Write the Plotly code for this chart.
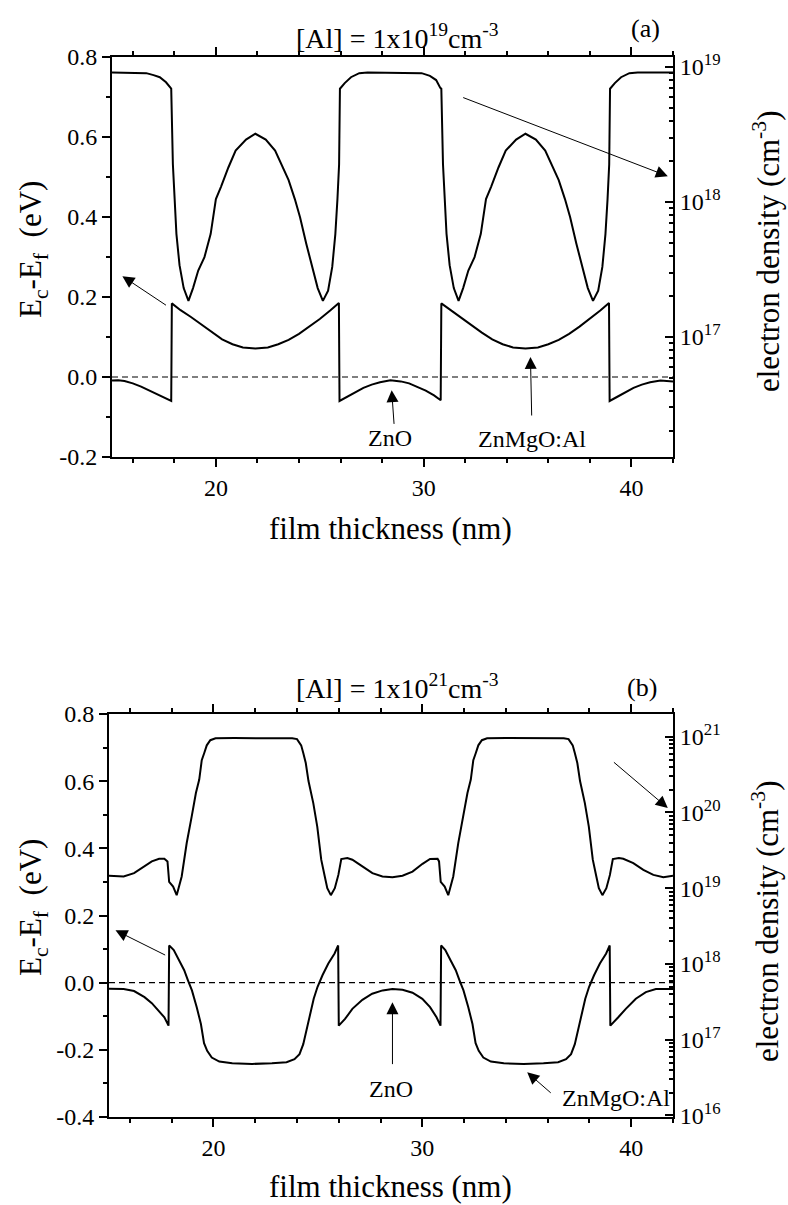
import plotly.graph_objects as go

W, H = 788, 1205
FONT = "Liberation Serif"

# ---------------- panel (a): [Al] = 1e19 cm^-3 ----------------
xa_ec = [15.0, 15.3, 15.6, 16.0, 16.4, 16.8, 17.2, 17.55, 17.85,
         17.88, 18.3, 18.8, 19.3, 19.8, 20.3, 20.8, 21.3, 21.9, 22.5, 23.0,
         23.5, 24.0, 24.5, 25.0, 25.5, 25.92,
         25.95, 26.3, 26.7, 27.1, 27.5, 27.9, 28.4, 28.9, 29.3, 29.7, 30.1,
         30.5, 30.82,
         30.85, 31.3, 31.8, 32.3, 32.8, 33.3, 33.8, 34.3, 34.9, 35.5, 36.0,
         36.5, 37.0, 37.5, 38.0, 38.5, 38.92,
         38.95, 39.3, 39.7, 40.1, 40.5, 40.9, 41.4, 42.0]
ec_a = [-0.009, -0.008, -0.010, -0.016, -0.024, -0.034, -0.043, -0.051, -0.060,
        0.184, 0.167, 0.150, 0.131, 0.111, 0.094, 0.082, 0.074, 0.071, 0.074, 0.082,
        0.093, 0.108, 0.126, 0.145, 0.166, 0.185,
        -0.060, -0.050, -0.038, -0.027, -0.019, -0.013, -0.008, -0.011, -0.016, -0.024, -0.034,
        -0.046, -0.058,
        0.184, 0.167, 0.150, 0.131, 0.111, 0.094, 0.082, 0.074, 0.071, 0.074, 0.082,
        0.093, 0.108, 0.126, 0.145, 0.166, 0.185,
        -0.060, -0.050, -0.038, -0.027, -0.019, -0.013, -0.009, -0.011]

xa_n = [15.0, 16.0, 16.65, 17.0, 17.3, 17.6, 17.8, 17.85,
        17.93, 18.0, 18.1, 18.25, 18.45, 18.68, 18.9, 19.15, 19.45, 19.75, 20.0,
        20.25, 20.6, 20.95, 21.45, 21.9, 22.4, 22.85, 23.15, 23.5, 23.8, 24.05,
        24.35, 24.6, 24.9, 25.15, 25.4, 25.6, 25.75, 25.85, 25.93,
        25.97, 26.2, 26.5, 26.9, 27.3, 29.5, 29.9, 30.3, 30.6, 30.8, 30.85,
        30.93, 31.0, 31.1, 31.25, 31.45, 31.68, 31.9, 32.15, 32.45, 32.75, 33.0,
        33.25, 33.6, 33.95, 34.45, 34.9, 35.4, 35.85, 36.15, 36.5, 36.8, 37.05,
        37.35, 37.6, 37.9, 38.15, 38.4, 38.6, 38.75, 38.85, 38.93,
        38.97, 39.2, 39.5, 39.9, 40.3, 42.0]
n_a = [9.1e18, 9.1e18, 9.0e18, 8.7e18, 8.4e18, 7.7e18, 7.0e18, 6.9e18,
       1.9e18, 1.1e18, 5.8e17, 3.4e17, 2.3e17, 1.85e17, 2.3e17, 3.1e17, 3.9e17, 5.8e17, 1.05e18,
       1.3e18, 1.8e18, 2.4e18, 2.9e18, 3.2e18, 2.9e18, 2.4e18, 1.9e18, 1.45e18, 1.05e18, 7.7e17,
       4.9e17, 3.5e17, 2.3e17, 1.85e17, 2.2e17, 3.3e17, 5.8e17, 1.05e18, 1.9e18,
       6.9e18, 7.6e18, 8.4e18, 9.0e18, 9.1e18, 9.1e18, 9.0e18, 8.6e18, 8.0e18, 7.0e18, 6.9e18,
       1.9e18, 1.1e18, 5.8e17, 3.4e17, 2.3e17, 1.85e17, 2.3e17, 3.1e17, 3.9e17, 5.8e17, 1.05e18,
       1.3e18, 1.8e18, 2.4e18, 2.9e18, 3.2e18, 2.9e18, 2.4e18, 1.9e18, 1.45e18, 1.05e18, 7.7e17,
       4.9e17, 3.5e17, 2.3e17, 1.85e17, 2.2e17, 3.3e17, 5.8e17, 1.05e18, 1.9e18,
       6.9e18, 7.6e18, 8.4e18, 9.0e18, 9.1e18, 9.1e18]

# ---------------- panel (b): [Al] = 1e21 cm^-3 ----------------
xb_ec = [15.0, 15.7, 16.2, 16.7, 17.05, 17.4, 17.65, 17.85,
         17.88, 18.1, 18.35, 18.6, 18.78, 18.97, 19.2, 19.4, 19.55, 19.7, 19.92,
         20.28, 20.9, 21.85, 22.8, 23.5, 23.88, 24.12, 24.3, 24.45, 24.62, 24.8,
         24.98, 25.22, 25.5, 25.8, 25.97,
         26.0, 26.3, 26.65, 27.13, 27.6, 28.1, 28.57, 29.05, 29.53, 30.0, 30.37,
         30.68, 30.87,
         30.9, 31.1, 31.35, 31.6, 31.78, 31.97, 32.2, 32.4, 32.55, 32.7, 32.92,
         33.28, 33.9, 34.85, 35.8, 36.5, 36.88, 37.12, 37.3, 37.45, 37.62, 37.8,
         37.98, 38.22, 38.5, 38.8, 38.97,
         39.0, 39.38, 39.74, 40.22, 40.7, 41.18, 42.0]
ec_b = [-0.018, -0.019, -0.025, -0.043, -0.061, -0.085, -0.103, -0.128,
        0.111, 0.097, 0.067, 0.037, 0.007, -0.023, -0.073, -0.123, -0.180, -0.203, -0.223,
        -0.235, -0.240, -0.242, -0.240, -0.237, -0.228, -0.213, -0.183, -0.143, -0.103, -0.048,
        -0.013, 0.022, 0.057, 0.087, 0.111,
        -0.128, -0.108, -0.078, -0.051, -0.033, -0.023, -0.019, -0.021, -0.030, -0.048, -0.073,
        -0.103, -0.128,
        0.111, 0.097, 0.067, 0.037, 0.007, -0.023, -0.073, -0.123, -0.180, -0.203, -0.223,
        -0.235, -0.240, -0.242, -0.240, -0.237, -0.228, -0.213, -0.183, -0.143, -0.103, -0.048,
        -0.013, 0.022, 0.057, 0.087, 0.111,
        -0.128, -0.103, -0.078, -0.048, -0.028, -0.019, -0.019]

xb_n = [15.0, 15.7, 16.2, 16.7, 17.05, 17.4, 17.65, 17.8,
        17.88, 18.07, 18.24, 18.48, 18.72, 18.96, 19.16, 19.32, 19.44, 19.56, 19.68,
        19.85, 20.1, 21.0, 22.0, 23.0, 23.77, 24.0, 24.2, 24.3, 24.42, 24.55,
        24.78, 24.97, 25.16, 25.33, 25.45, 25.62, 25.81, 25.98,
        26.12, 26.41, 26.65, 27.13, 27.61, 28.09, 28.57, 29.05, 29.53, 30.01, 30.37,
        30.73, 30.8,
        30.88, 31.07, 31.24, 31.48, 31.72, 31.96, 32.16, 32.32, 32.44, 32.56, 32.68,
        32.85, 33.1, 34.0, 35.0, 36.0, 36.77, 37.0, 37.2, 37.3, 37.42, 37.55,
        37.78, 37.97, 38.16, 38.33, 38.45, 38.62, 38.81, 38.98,
        39.12, 39.41, 39.62, 40.1, 40.58, 41.06, 41.54, 42.0]
n_b = [1.46e19, 1.43e19, 1.58e19, 1.94e19, 2.26e19, 2.45e19, 2.45e19, 2.26e19,
       1.21e19, 1.05e19, 8.1e18, 1.43e19, 3.95e19, 8.9e19, 1.81e20, 2.72e20, 4.9e20, 6.1e20, 7.7e20,
       9.0e20, 9.55e20, 9.6e20, 9.6e20, 9.6e20, 9.55e20, 9.3e20, 7.7e20, 6.1e20, 4.5e20, 2.6e20,
       1.33e20, 6.5e19, 2.38e19, 1.43e19, 1.0e19, 8.1e18, 1.0e19, 1.5e19,
       2.43e19, 2.5e19, 2.38e19, 1.94e19, 1.58e19, 1.43e19, 1.40e19, 1.46e19, 1.66e19, 2.1e19, 2.43e19,
       2.45e19, 2.26e19,
       1.21e19, 1.05e19, 8.1e18, 1.43e19, 3.95e19, 8.9e19, 1.81e20, 2.72e20, 4.9e20, 6.1e20, 7.7e20,
       9.0e20, 9.55e20, 9.6e20, 9.6e20, 9.6e20, 9.55e20, 9.3e20, 7.7e20, 6.1e20, 4.5e20, 2.6e20,
       1.33e20, 6.5e19, 2.38e19, 1.43e19, 1.0e19, 8.1e18, 1.0e19, 1.5e19,
       2.43e19, 2.5e19, 2.45e19, 2.15e19, 1.75e19, 1.5e19, 1.40e19, 1.46e19]

# ---------------- axis ticks ----------------
x_ticks = [20, 30, 40]
ya_ticks = [-0.2, 0.0, 0.2, 0.4, 0.6, 0.8]
ya_text = ["-0.2", "0.0", "0.2", "0.4", "0.6", "0.8"]
yb_ticks = [-0.4, -0.2, 0.0, 0.2, 0.4, 0.6, 0.8]
yb_text = ["-0.4", "-0.2", "0.0", "0.2", "0.4", "0.6", "0.8"]
na_decades = [16, 17, 18, 19]
nb_decades = [15, 16, 17, 18, 19, 20, 21]


def decade_ticks(decades, lo, hi):
    major = [10.0 ** d for d in decades if lo <= d <= hi]
    text = ["10<sup>%d</sup>" % d for d in decades if lo <= d <= hi]
    minor = [m * 10.0 ** d for d in decades for m in range(2, 10)]
    return major, text, minor


LINE = dict(color="black", width=2)
fig = go.Figure()
fig.add_trace(go.Scatter(x=xa_ec, y=ec_a, mode="lines", line=LINE, xaxis="x", yaxis="y"))
fig.add_trace(go.Scatter(x=xa_n, y=n_a, mode="lines", line=LINE, xaxis="x", yaxis="y2"))
fig.add_trace(go.Scatter(x=xb_ec, y=ec_b, mode="lines", line=LINE, xaxis="x2", yaxis="y3"))
fig.add_trace(go.Scatter(x=xb_n, y=n_b, mode="lines", line=LINE, xaxis="x2", yaxis="y4"))

tickfont = dict(family=FONT, size=24, color="black")


def xaxis_cfg(domain, anchor):
    return dict(domain=domain, anchor=anchor, range=[15, 42], tickvals=x_ticks,
                ticks="outside", ticklen=8, tickwidth=2, tickcolor="black",
                minor=dict(dtick=2, tick0=0, ticks="outside", ticklen=4, tickwidth=1.5,
                           tickcolor="black"),
                showline=True, linewidth=2, linecolor="black", mirror="ticks",
                showgrid=False, zeroline=False, tickfont=tickfont)


def yleft_cfg(domain, anchor, rng, tv, tt):
    return dict(domain=domain, anchor=anchor, range=rng, tickvals=tv, ticktext=tt,
                ticks="outside", ticklen=8, tickwidth=2, tickcolor="black",
                minor=dict(dtick=0.1, tick0=0, ticks="outside", ticklen=4, tickwidth=1.5,
                           tickcolor="black"),
                showline=True, linewidth=2, linecolor="black",
                showgrid=False, zeroline=False, tickfont=tickfont)


def yright_cfg(over, anchor, rng, decades):
    major, text, minor = decade_ticks(decades, rng[0], rng[1])
    return dict(overlaying=over, anchor=anchor, side="right", type="log", range=rng,
                tickvals=major, ticktext=text,
                ticks="inside", ticklen=8, tickwidth=2, tickcolor="black",
                minor=dict(tickvals=minor, ticks="inside", ticklen=4, tickwidth=1.5,
                           tickcolor="black"),
                showline=True, linewidth=2, linecolor="black",
                showgrid=False, zeroline=False, tickfont=tickfont)


fig.update_layout(
    width=W, height=H, showlegend=False,
    font=dict(family=FONT, color="black"),
    margin=dict(l=0, r=0, t=0, b=0, autoexpand=False),
    paper_bgcolor="white", plot_bgcolor="white",
    xaxis=xaxis_cfg([112 / W, 673 / W], "y"),
    yaxis=yleft_cfg([1 - 457 / H, 1 - 57 / H], "x", [-0.2, 0.8], ya_ticks, ya_text),
    yaxis2=yright_cfg("y", "x", [16.11, 19.074], na_decades),
    xaxis2=xaxis_cfg([109 / W, 673 / W], "y3"),
    yaxis3=yleft_cfg([1 - 1117 / H, 1 - 714 / H], "x2", [-0.4, 0.8], yb_ticks, yb_text),
    yaxis4=yright_cfg("y3", "x2", [15.98, 21.3], nb_decades),
)

# Fermi level reference (dashed) in both panels
for xr, yr in (("x", "y"), ("x2", "y3")):
    fig.add_shape(type="line", xref=xr, yref=yr, x0=15, x1=42, y0=0, y1=0,
                  line=dict(color="black", width=1.2, dash="6px,4px"))

annotations = []


def arrow(xr, yr, tail, head):
    annotations.append(dict(xref=xr, yref=yr, axref=xr, ayref=yr, x=head[0], y=head[1],
                            ax=tail[0], ay=tail[1], text="", showarrow=True,
                            arrowhead=2, arrowsize=2.4, arrowwidth=1, arrowcolor="black"))


def label(xr, yr, x, y, text, size=24, xanchor="center"):
    annotations.append(dict(xref=xr, yref=yr, x=x, y=y, text=text, showarrow=False,
                            xanchor=xanchor, yanchor="middle",
                            font=dict(family=FONT, size=size, color="black")))


# panel (a) markers
arrow("x", "y", (31.83, 0.70), (41.75, 0.502))
arrow("x", "y", (17.67, 0.177), (15.5, 0.252))
arrow("x", "y", (28.58, -0.121), (28.46, -0.033))
arrow("x", "y", (35.2, -0.10), (35.14, 0.05))
label("x", "y", 28.4, -0.152, "ZnO")
label("x", "y", 35.2, -0.155, "ZnMgO:Al")

# panel (b) markers
arrow("x2", "y3", (39.1, 0.66), (41.75, 0.52))
arrow("x2", "y3", (17.76, 0.08), (15.31, 0.156))
arrow("x2", "y3", (28.57, -0.247), (28.57, -0.058))
arrow("x2", "y3", (36.22, -0.332), (35.02, -0.267))
label("x2", "y3", 28.5, -0.317, "ZnO")
label("x2", "y3", 41.95, -0.344, "ZnMgO:Al", xanchor="right")

# titles and axis labels
titles = [
    ("[Al] = 1x10<sup>19</sup>cm<sup>-3</sup>", 397, 36, 28, 0),
    ("(a)", 645, 28, 26, 0),
    ("[Al] = 1x10<sup>21</sup>cm<sup>-3</sup>", 397, 686, 28, 0),
    ("(b)", 642, 687, 26, 0),
    ("film thickness (nm)", 390, 528, 31, 0),
    ("film thickness (nm)", 390, 1186, 31, 0),
    ("E<sub>c</sub>-E<sub>f</sub>&nbsp; (eV)", 33, 250, 31, -90),
    ("E<sub>c</sub>-E<sub>f</sub>&nbsp; (eV)", 33, 908, 31, -90),
    ("electron density (cm<sup>-3</sup>)", 766, 252, 31, -90),
    ("electron density (cm<sup>-3</sup>)", 766, 922, 31, -90),
]
for text, px, py, size, ang in titles:
    annotations.append(dict(xref="paper", yref="paper", x=px / W, y=1 - py / H, text=text,
                            showarrow=False, xanchor="center", yanchor="middle",
                            textangle=ang, font=dict(family=FONT, size=size, color="black")))

fig.update_layout(annotations=annotations)
fig.write_html("out.html")
